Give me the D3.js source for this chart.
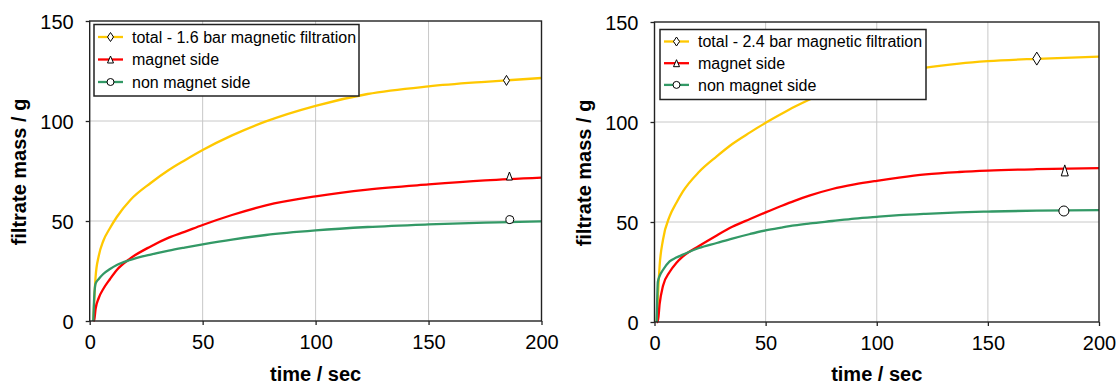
<!DOCTYPE html>
<html>
<head>
<meta charset="utf-8">
<script src="https://cdn.jsdelivr.net/npm/d3@7"></script>
<style>
  html, body { margin: 0; padding: 0; background: #fff; }
  svg { display: block; font-family: "Liberation Sans", Arial, Helvetica, sans-serif; }
</style>
</head>
<body>
<svg id="chart" width="1120" height="385"></svg>
<script>
// left panel: 1.6 bar
const timeA      = [1.6, 2, 2.6, 4, 6, 9, 12, 18, 27, 35, 42, 50, 63, 78, 100, 123, 150, 175, 200];
const totalA     = [0, 10, 22, 32.5, 40, 46.5, 52, 60.5, 69, 75.5, 80.3, 85.5, 92.8, 99.8, 107.6, 113.5, 117.3, 119.6, 121.5];
const magnetA    = [0, 0.5, 6, 11.5, 16, 21, 25.5, 31.3, 37.3, 41.7, 44.6, 48, 53, 57.8, 62.3, 65.7, 68.3, 70.3, 71.7];
const nonMagnetA = [0, 12, 18.7, 21, 23.5, 26, 28, 30.5, 33.2, 35.2, 36.7, 38.3, 40.7, 43, 45.3, 47, 48.3, 49.2, 49.8];
const markerTimeA = [184.5, 185.8, 186];
const markerMassA = [120.3, 72.5, 50.7];
const legendLabelsA = ["total - 1.6 bar magnetic filtration", "magnet side", "non magnet side"];

// right panel: 2.4 bar
const timeB      = [1, 1.5, 2.3, 3.8, 6.8, 9.8, 12.8, 20, 28, 35, 43, 50, 57, 63, 70, 80, 90, 100, 110, 122, 137, 150, 172, 200];
const totalB     = [0, 12, 28, 41, 52.8, 59.5, 65.3, 75, 82.8, 89, 94.8, 99.6, 104, 107.6, 111.4, 116.3, 120, 122.8, 125, 127.2, 129.2, 130.4, 131.6, 132.7];
const magnetB    = [0, 0, 9, 18, 25, 29.5, 32.8, 38, 43.3, 47.6, 51.5, 54.8, 58, 60.6, 63.3, 66.5, 68.8, 70.6, 72.2, 73.8, 75, 75.7, 76.4, 76.9];
const nonMagnetB = [0, 20, 23, 26, 30.3, 32.2, 33.7, 37, 39.5, 41.7, 44, 45.8, 47.2, 48.3, 49.3, 50.5, 51.7, 52.6, 53.4, 54.1, 54.8, 55.2, 55.7, 55.9];
const markerTimeB = [172, 184.6, 184.2];
const markerMassB = [131.7, 75.8, 55.5];
const legendLabelsB = ["total - 2.4 bar magnetic filtration", "magnet side", "non magnet side"];

const xTicks = [0, 50, 100, 150, 200];
const yTicks = [0, 50, 100, 150];
const seriesColors = ["#ffc800", "#ff0000", "#339966"];
const seriesShapes = ["diamond", "triangle", "circle"];

const svg = d3.select("#chart");

function shapePath(shape, w, h) {
  if (shape === "diamond") return `M0,${-h/2}L${w/2},0L0,${h/2}L${-w/2},0Z`;
  if (shape === "triangle") return `M0,${-h/2}L${w/2},${h/2}L${-w/2},${h/2}Z`;
  return null;
}

function drawMarker(g, shape, x, y, size) {
  if (shape === "circle") {
    g.append("circle").attr("cx", x).attr("cy", y).attr("r", size.r)
      .attr("fill", "#fff").attr("stroke", "#000").attr("stroke-width", 1);
  } else {
    const s = size[shape];
    g.append("path").attr("d", shapePath(shape, s[0], s[1]))
      .attr("transform", `translate(${x},${y})`)
      .attr("fill", "#fff").attr("stroke", "#000").attr("stroke-width", 1);
  }
}

function drawPanel(p) {
  const x = d3.scaleLinear().domain([0, 200]).range([p.left, p.right]);
  const y = d3.scaleLinear().domain([0, 150]).range([p.bottom, p.top]);
  const g = svg.append("g");

  // grid
  g.append("g").selectAll("line").data(xTicks.slice(1, -1)).join("line")
    .attr("x1", d => x(d)).attr("x2", d => x(d)).attr("y1", p.top).attr("y2", p.bottom)
    .attr("stroke", "#c8c8c8").attr("stroke-width", 1);
  g.append("g").selectAll("line").data(yTicks.slice(1, -1)).join("line")
    .attr("x1", p.left).attr("x2", p.right).attr("y1", d => y(d)).attr("y2", d => y(d))
    .attr("stroke", "#c8c8c8").attr("stroke-width", 1);

  // curves
  const line = d3.line().x(d => x(d[0])).y(d => y(d[1])).curve(d3.curveMonotoneX);
  p.series.forEach((vals, i) => {
    g.append("path").datum(p.time.map((t, k) => [t, vals[k]]))
      .attr("d", line).attr("fill", "none")
      .attr("stroke", seriesColors[i]).attr("stroke-width", 2.3)
      .attr("stroke-linejoin", "round");
  });

  // single markers on curves
  p.markerTime.forEach((t, i) => drawMarker(g, seriesShapes[i], x(t), y(p.markerMass[i]), p.markerSize));

  // axes
  const xAxis = g.append("g").attr("transform", `translate(0,${p.bottom})`)
    .call(d3.axisBottom(x).tickValues(xTicks).tickSize(4).tickPadding(10).tickFormat(d3.format("d")));
  const yAxis = g.append("g").attr("transform", `translate(${p.left},0)`)
    .call(d3.axisLeft(y).tickValues(yTicks).tickSize(4).tickPadding(12).tickFormat(d3.format("d")));
  [xAxis, yAxis].forEach(a => {
    a.select(".domain").remove();
    a.selectAll(".tick line").attr("stroke", "#222").attr("stroke-width", 1.3);
    a.selectAll(".tick text").attr("font-size", 20).attr("fill", "#000")
      .attr("font-family", "'Liberation Sans', Arial, sans-serif");
  });
  xAxis.selectAll(".tick text").attr("dy", "0.72em");
  yAxis.selectAll(".tick text").attr("dy", "0.36em");

  // frame
  g.append("rect").attr("x", p.left).attr("y", p.top)
    .attr("width", p.right - p.left).attr("height", p.bottom - p.top)
    .attr("fill", "none").attr("stroke", "#222").attr("stroke-width", 1.4);

  // axis titles
  g.append("text").attr("x", (p.left + p.right) / 2).attr("y", 381)
    .attr("text-anchor", "middle").attr("font-size", 20).attr("font-weight", "bold")
    .text("time / sec");
  g.append("text").attr("transform", `translate(${p.yTitleX},${(p.top + p.bottom) / 2 + 1}) rotate(-90)`)
    .attr("text-anchor", "middle").attr("font-size", 20).attr("font-weight", "bold")
    .text("filtrate mass / g");

  // legend
  const lg = g.append("g");
  lg.append("rect").attr("x", p.legend.x).attr("y", p.legend.y)
    .attr("width", p.legend.w).attr("height", p.legend.h)
    .attr("fill", "#fff").attr("stroke", "#222").attr("stroke-width", 1.5);
  p.labels.forEach((lab, i) => {
    const ry = p.legend.y + p.legend.row0 + i * p.legend.step;
    lg.append("line").attr("x1", p.legend.x + 4).attr("x2", p.legend.x + 29)
      .attr("y1", ry).attr("y2", ry)
      .attr("stroke", seriesColors[i]).attr("stroke-width", 2.3);
    drawMarker(lg, seriesShapes[i], p.legend.x + 16.5, ry,
      { diamond: [6, 9], triangle: [6, 7], r: 3.5 });
    lg.append("text").attr("x", p.legend.x + 38).attr("y", ry).attr("dy", "0.35em")
      .attr("font-size", 16).attr("fill", "#000").text(lab);
  });
}

drawPanel({
  left: 89.7, right: 541.5, top: 21, bottom: 321, yTitleX: 26,
  time: timeA, series: [totalA, magnetA, nonMagnetA],
  markerTime: markerTimeA, markerMass: markerMassA,
  markerSize: { diamond: [6, 10], triangle: [6, 8], r: 4 },
  labels: legendLabelsA,
  legend: { x: 94, y: 24.5, w: 265, h: 71.5, row0: 12.5, step: 22.5 }
});

drawPanel({
  left: 654.5, right: 1099, top: 22, bottom: 322, yTitleX: 591,
  time: timeB, series: [totalB, magnetB, nonMagnetB],
  markerTime: markerTimeB, markerMass: markerMassB,
  markerSize: { diamond: [8, 13], triangle: [7, 11], r: 5 },
  labels: legendLabelsB,
  legend: { x: 660, y: 29.5, w: 266, h: 70, row0: 12, step: 21.7 }
});
</script>
</body>
</html>
